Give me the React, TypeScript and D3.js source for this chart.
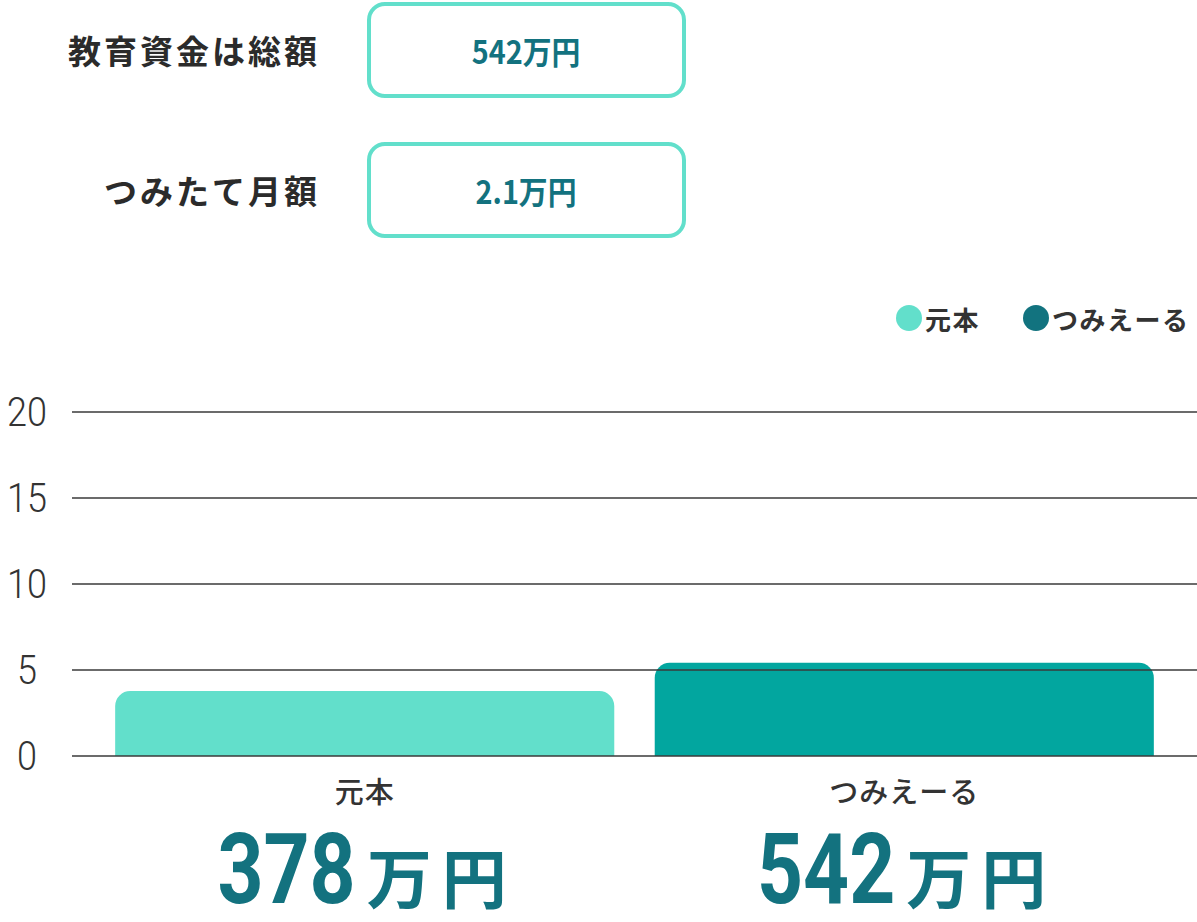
import * as d3 from "d3";

const W = 1197;
const H = 922;
const MARGIN = { top: 412, right: 0, bottom: 166, left: 72 };

// data
const categories = ["元本", "つみえーる"];
const values = [3.78, 5.42];
const amounts = ["378", "542"];
const yTicks = [0, 5, 10, 15, 20];
const inputLabels = ["教育資金は総額", "つみたて月額"];
const inputValues = ["542万円", "2.1万円"];

const BAR_COLORS = ["#62dfcb", "#02a69f"];
const LEGEND_COLORS = ["#62dfcb", "#12737f"];
const DARK = "#13727f";
const JP = "'Noto Sans CJK JP', 'Noto Sans', sans-serif";
const NUM = "Roboto, 'Noto Sans', sans-serif";

// bar with rounded top corners only
const topRoundedBar = (x: number, y: number, w: number, h: number, r: number) => {
  const rr = Math.min(r, h, w / 2);
  const p = d3.path();
  p.moveTo(x, y + h);
  p.lineTo(x, y + rr);
  p.arcTo(x, y, x + rr, y, rr);
  p.lineTo(x + w - rr, y);
  p.arcTo(x + w, y, x + w, y + rr, rr);
  p.lineTo(x + w, y + h);
  p.closePath();
  return p.toString();
};

export default function App() {
  const boundsWidth = W - MARGIN.left - MARGIN.right;
  const boundsHeight = H - MARGIN.top - MARGIN.bottom;

  const yScale = d3.scaleLinear().domain([0, 20]).range([boundsHeight, 0]);
  const xScale = d3
    .scaleBand()
    .domain(categories)
    .range([0, boundsWidth])
    .paddingInner(0.075)
    .paddingOuter(0.08);

  return (
    <svg
      width={W}
      height={H}
      style={{ position: "absolute", left: 0, top: 0, background: "#fff" }}
    >
      {/* input rows */}
      {inputLabels.map((label, i) => {
        const cy = 50 + i * 140;
        return (
          <g key={label}>
            <text
              x={320}
              y={cy}
              textAnchor="end"
              dominantBaseline="central"
              fontFamily={JP}
              fontWeight={700}
              fontSize={33}
              letterSpacing={3}
              fill="#2b2b2b"
            >
              {label}
            </text>
            <rect
              x={369}
              y={cy - 46}
              width={315}
              height={92}
              rx={16}
              fill="#fff"
              stroke="#62dfcb"
              strokeWidth={4}
            />
            <text
              x={526}
              y={cy}
              textAnchor="middle"
              dominantBaseline="central"
              fontFamily={JP}
              fontWeight={700}
              fontSize={32}
              fill={DARK}
              transform={`translate(526,0) scale(0.9,1) translate(-526,0)`}
            >
              {inputValues[i]}
            </text>
          </g>
        );
      })}

      {/* legend */}
      {[
        { x: 909, label: categories[0], color: LEGEND_COLORS[0] },
        { x: 1036, label: categories[1], color: LEGEND_COLORS[1] },
      ].map((d) => (
        <g key={d.label}>
          <circle cx={d.x} cy={318} r={13} fill={d.color} />
          <text
            x={d.x + 16}
            y={318}
            dominantBaseline="central"
            fontFamily={JP}
            fontWeight={700}
            fontSize={26}
            letterSpacing={1.5}
            fill="#333"
          >
            {d.label}
          </text>
        </g>
      ))}

      <g transform={`translate(${MARGIN.left},${MARGIN.top})`}>
        {/* bars */}
        {categories.map((c, i) => (
          <path
            key={c}
            d={topRoundedBar(
              xScale(c)!,
              yScale(values[i]),
              xScale.bandwidth(),
              yScale(0) - yScale(values[i]),
              15
            )}
            fill={BAR_COLORS[i]}
          />
        ))}

        {/* grid lines on top of bars */}
        {yTicks.map((t) => (
          <g key={t}>
            <line
              x1={0}
              x2={boundsWidth}
              y1={yScale(t)}
              y2={yScale(t)}
              stroke="#3a3a3a"
              strokeWidth={1.6}
            />
            <text
              x={-45}
              y={yScale(t)}
              textAnchor="middle"
              dominantBaseline="central"
              fontFamily={NUM}
              fontWeight={300}
              fontSize={40}
              fill="#333"
              transform={`translate(-45,0) scale(0.9,1) translate(45,0)`}
            >
              {t}
            </text>
          </g>
        ))}

        {/* category labels and totals */}
        {categories.map((c, i) => {
          const cx = xScale(c)! + xScale.bandwidth() / 2;
          return (
            <g key={c}>
              <text
                x={cx}
                y={yScale(0) + 34}
                textAnchor="middle"
                dominantBaseline="central"
                fontFamily={JP}
                fontWeight={500}
                fontSize={29}
                letterSpacing={1}
                fill="#333"
              >
                {c}
              </text>
              <g transform={`translate(${cx},${903 - MARGIN.top})`}>
                <text
                  x={-11}
                  y={0}
                  textAnchor="end"
                  fontFamily={NUM}
                  fontWeight={700}
                  fontSize={98}
                  fill={DARK}
                  transform="scale(0.82,1)"
                >
                  {amounts[i]}
                </text>
                <text
                  x={2}
                  y={0}
                  textAnchor="start"
                  fontFamily={JP}
                  fontWeight={700}
                  fontSize={65}
                  letterSpacing={10}
                  fill={DARK}
                >
                  万円
                </text>
              </g>
            </g>
          );
        })}
      </g>
    </svg>
  );
}
